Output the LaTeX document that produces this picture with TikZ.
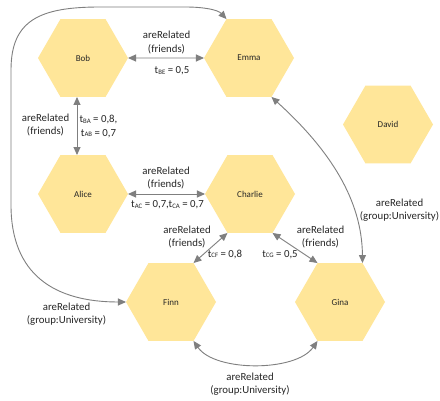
\documentclass[tikz,border=0pt]{standalone}
\usepackage{fontspec}
\setmainfont{Carlito}
\usetikzlibrary{shapes.geometric,arrows.meta,calc}
\definecolor{hexfill}{HTML}{FFE699}
\definecolor{linegray}{HTML}{7F7F7F}
\definecolor{txt}{HTML}{262626}
\newcommand{\tsub}[1]{t\raisebox{-0.2pt}{\fontsize{6.8}{6.8}\selectfont #1}}
\begin{document}
\begin{tikzpicture}[x=1pt,y=1pt,
 hexa/.style={regular polygon, regular polygon sides=6, minimum size=90pt, inner sep=0pt, outer sep=0pt, fill=hexfill, font=\fontsize{9}{11}\selectfont, text=txt},
 lbl/.style={align=center, font=\fontsize{10.8}{13.3}\selectfont, text=txt, inner sep=0pt},
 rel/.style={draw=linegray, line width=0.9pt, {Triangle[length=8pt,width=7pt]}-{Triangle[length=8pt,width=7pt]}}]
\useasboundingbox[fill=white] (0,0) rectangle (440,-401);

\node[hexa] (bob) at (83,-58) {Bob};
\node[hexa] (emma) at (249,-58) {Emma};
\node[hexa] (alice) at (83,-194) {Alice};
\node[hexa] (charlie) at (250,-194) {Charlie};
\node[hexa] (david) at (388,-124.5) {David};
\node[hexa] (finn) at (171,-302) {Finn};
\node[hexa] (gina) at (340,-302) {Gina};

\draw[rel] (bob.east) -- (emma.west);
\draw[rel] ($(bob.south)+(-6,0)$) -- ($(alice.north)+(-6,0)$);
\draw[rel] (alice.east) -- (charlie.west);
\draw[rel] (charlie.240) -- (finn.60);
\draw[rel] (charlie.300) -- (gina.120);
\draw[rel] (emma.300) .. controls (330,-150) and (362,-200) .. (gina.60);
\draw[rel] (finn.300) .. controls (215,-372) and (296,-372) .. (gina.240);
\draw[rel] (finn.west) .. controls (55,-302) and (11,-275) .. (11,-205) -- (11,-70) .. controls (11,-20) and (40,-7) .. (100,-7) -- (185,-7) .. controls (205,-7) and (218,-10) .. (emma.120);

\node[lbl] (lbe) at (166.5,-42.5) {areRelated\\(friends)};
\node[lbl] (tbe) at (172,-71) {\tsub{BE} = 0,5};
\node[lbl] (lba) at (45.5,-124.7) {areRelated\\(friends)};
\node[lbl] (tba) at (98.5,-126.5) {\tsub{BA} = 0,8,\\\tsub{AB} = 0,7};
\node[lbl] (lac) at (166,-178.3) {areRelated\\(friends)};
\node[lbl] (tac) at (167.5,-205) {\tsub{AC} = 0,7,\tsub{CA} = 0,7};
\node[lbl] (lcf) at (187,-236.7) {areRelated\\(friends)};
\node[lbl] (tcf) at (225,-254.3) {\tsub{CF} = 0,8};
\node[lbl] (lcg) at (320.5,-236.7) {areRelated\\(friends)};
\node[lbl] (tcg) at (280,-254.3) {\tsub{CG} = 0,5};
\node[lbl] (leg) at (399.5,-210.3) {areRelated\\(group:University)};
\node[lbl] (lef) at (66.5,-314) {areRelated\\(group:University)};
\node[lbl] (lfg) at (250,-384) {areRelated\\(group:University)};
\end{tikzpicture}
\end{document}
